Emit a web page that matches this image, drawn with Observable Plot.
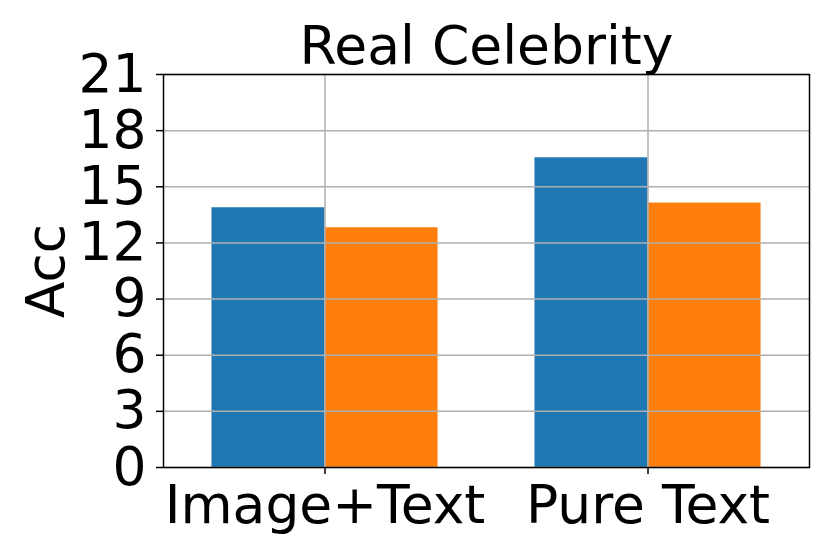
<!DOCTYPE html>
<html>
<head>
<meta charset="utf-8">
<script src="https://cdn.jsdelivr.net/npm/d3@7"></script>
<script src="https://cdn.jsdelivr.net/npm/@observablehq/plot@0.6"></script>
<style>
  html, body { margin: 0; padding: 0; background: #fff; }
</style>
</head>
<body>
<div id="chart"></div>
<script>
const title = "Real Celebrity";
const yLabel = "Acc";
const categories = ["Image+Text", "Pure Text"];
const seriesNames = ["Series A", "Series B"];
const seriesA = [13.88, 16.55];
const seriesB = [12.81, 14.13];
const yTicks = [0, 3, 6, 9, 12, 15, 18, 21];
const colors = ["#1f77b4", "#ff7f0e"];
const barWidth = 0.35;

const bars = [];
categories.forEach((c, i) => {
  bars.push({cat: c, i, series: seriesNames[0], value: seriesA[i], x1: i - barWidth, x2: i});
  bars.push({cat: c, i, series: seriesNames[1], value: seriesB[i], x1: i, x2: i + barWidth});
});

const fs = 53.5;
const chart = Plot.plot({
  width: 830,
  height: 554,
  marginLeft: 163,
  marginRight: 21,
  marginTop: 74,
  marginBottom: 87,
  style: {fontFamily: "'DejaVu Sans', sans-serif", fontSize: fs + "px", background: "#fff", color: "#000"},
  x: {type: "linear", domain: [-0.5, 1.5]},
  y: {domain: [0, 21]},
  color: {domain: seriesNames, range: colors},
  marks: [
    Plot.rect(bars, {x1: "x1", x2: "x2", y1: 0, y2: "value", fill: "series"}),
    Plot.gridY(yTicks, {stroke: "#b0b0b0", strokeOpacity: 1, strokeWidth: 1.5}),
    Plot.gridX([0, 1], {stroke: "#b0b0b0", strokeOpacity: 1, strokeWidth: 1.5}),
    Plot.axisY(yTicks, {tickSize: 7, tickPadding: 10, strokeWidth: 1.5, label: null, fontSize: fs}),
    Plot.axisX([0, 1], {tickSize: 7, tickPadding: 10, strokeWidth: 1.5, label: null, fontSize: fs, tickFormat: i => categories[i]}),
    Plot.frame({stroke: "#000", strokeWidth: 1.5}),
    Plot.text([title], {frameAnchor: "top", dy: -11, lineAnchor: "bottom", fontSize: fs, fill: "#000"}),
    Plot.text([yLabel], {frameAnchor: "left", dx: -100, rotate: -90, lineAnchor: "bottom", textAnchor: "middle", fontSize: fs, fill: "#000"})
  ]
});
document.getElementById("chart").appendChild(chart);
</script>
</body>
</html>
